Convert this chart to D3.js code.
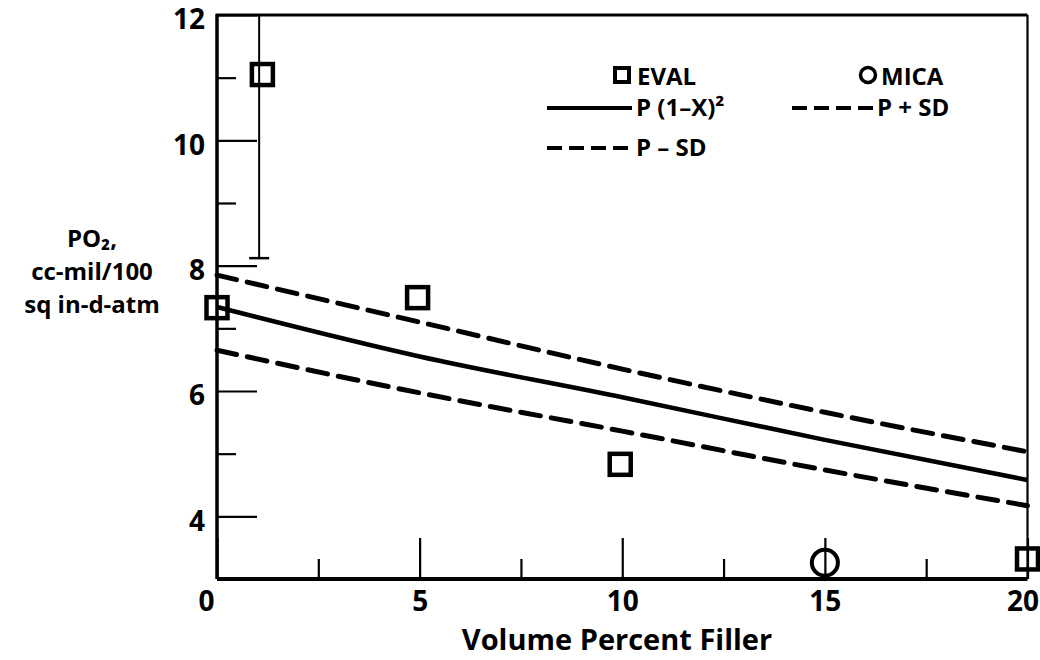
<!DOCTYPE html>
<html>
<head>
<meta charset="utf-8">
<script src="https://cdn.jsdelivr.net/npm/d3@7"></script>
<style>
  body { margin: 0; background: #fff; }
  text { font-family: "Open Sans", "Liberation Sans", sans-serif; font-weight: 700; fill: #000; }
</style>
</head>
<body>
<div id="chart"></div>
<script>
// ---- data ----
var fillerPct  = [0, 5, 10, 15, 20];             // x positions of the curves
var pFit       = [7.34, 6.55, 5.9, 5.22, 4.58];  // P (1-X)^2
var pPlusSD    = [7.85, 7.1, 6.35, 5.66, 5.03];  // P + SD
var pMinusSD   = [6.65, 5.97, 5.36, 4.74, 4.17]; // P - SD

var evalX = [0, 1.12, 4.95, 9.95, 20];
var evalY = [7.33, 11.05, 7.49, 4.83, 3.32];
var micaX = [15];
var micaY = [3.26];

// error bar on the EVAL point near 1 %
var errX = [1.04], errLo = [8.12], errHi = [12];

var xMajor = [0, 5, 10, 15, 20];
var xMinor = [2.5, 7.5, 12.5, 17.5];
var yMajor = [4, 6, 8, 10, 12];
var yMinor = [5, 7, 9, 11];

var W = 1040, H = 660;
var margin = {top: 15, right: 12.5, bottom: 81, left: 217};

var svg = d3.select("#chart").append("svg")
    .attr("width", W)
    .attr("height", H);

var x = d3.scaleLinear().domain([0, 20]).range([margin.left, W - margin.right]);
var y = d3.scaleLinear().domain([3, 12]).range([H - margin.bottom, margin.top]);

// ---- axes (ticks point inward) ----
var xAxis = svg.append("g")
    .attr("transform", "translate(0," + y(3) + ")")
    .call(d3.axisBottom(x).tickValues(xMajor).tickSize(-41).tickPadding(12).tickFormat(d3.format("d")));
var xAxisMinor = svg.append("g")
    .attr("transform", "translate(0," + y(3) + ")")
    .call(d3.axisBottom(x).tickValues(xMinor).tickSize(-20).tickFormat(""));

var yAxis = svg.append("g")
    .attr("transform", "translate(" + x(0) + ",0)")
    .call(d3.axisLeft(y).tickValues(yMajor).tickSize(-40).tickPadding(12).tickFormat(d3.format("d")));
var yAxisMinor = svg.append("g")
    .attr("transform", "translate(" + x(0) + ",0)")
    .call(d3.axisLeft(y).tickValues(yMinor).tickSize(-19).tickFormat(""));

svg.selectAll(".domain").remove();
svg.selectAll(".tick line").attr("stroke", "#000").attr("stroke-width", 2.2);
svg.selectAll(".tick text").style("font-size", "28px").attr("font-family", null).attr("font-size", null);

// labels sit a little below their ticks in the original
yAxis.selectAll(".tick text").attr("y", 5);
// zero label sits a bit left of the corner
xAxis.selectAll(".tick text").filter(function(d) { return d === 0; }).attr("dx", -11);
xAxis.selectAll(".tick text").filter(function(d) { return d === 20; }).attr("dx", -5);

// frame
svg.append("line").attr("x1", x(0)).attr("x2", x(0)).attr("y1", y(12)).attr("y2", y(3))
    .attr("stroke", "#000").attr("stroke-width", 3.5);
svg.append("line").attr("x1", x(0)).attr("x2", x(20)).attr("y1", y(3)).attr("y2", y(3))
    .attr("stroke", "#000").attr("stroke-width", 4);
svg.append("line").attr("x1", x(0) - 1.5).attr("x2", x(20)).attr("y1", y(12)).attr("y2", y(12))
    .attr("stroke", "#000").attr("stroke-width", 3);
svg.append("line").attr("x1", x(20)).attr("x2", x(20)).attr("y1", y(12)).attr("y2", y(3))
    .attr("stroke", "#000").attr("stroke-width", 2.2);

// ---- curves ----
var curveData = function(vals) {
    return fillerPct.map(function(d, i) { return [d, vals[i]]; });
};
var line = d3.line()
    .x(function(d) { return x(d[0]); })
    .y(function(d) { return y(d[1]); })
    .curve(d3.curveMonotoneX);

svg.append("path").datum(curveData(pFit))
    .attr("d", line).attr("fill", "none").attr("stroke", "#000").attr("stroke-width", 4.5);
svg.append("path").datum(curveData(pPlusSD))
    .attr("d", line).attr("fill", "none").attr("stroke", "#000").attr("stroke-width", 5)
    .attr("stroke-dasharray", "20,11").attr("stroke-linecap", "round");
svg.append("path").datum(curveData(pMinusSD))
    .attr("d", line).attr("fill", "none").attr("stroke", "#000").attr("stroke-width", 5)
    .attr("stroke-dasharray", "20,11").attr("stroke-linecap", "round");

// ---- error bar ----
var eb = svg.selectAll(".errbar").data(errX).enter().append("g").attr("class", "errbar");
eb.append("line")
    .attr("x1", function(d) { return x(d); }).attr("x2", function(d) { return x(d); })
    .attr("y1", function(d, i) { return y(errLo[i]); }).attr("y2", function(d, i) { return y(errHi[i]); })
    .attr("stroke", "#000").attr("stroke-width", 2);
eb.append("line")
    .attr("x1", function(d) { return x(d) - 10; }).attr("x2", function(d) { return x(d) + 10; })
    .attr("y1", function(d, i) { return y(errLo[i]); }).attr("y2", function(d, i) { return y(errLo[i]); })
    .attr("stroke", "#000").attr("stroke-width", 2.5);

// ---- points ----
var sq = 21;
svg.selectAll(".eval").data(evalX).enter().append("rect")
    .attr("class", "eval")
    .attr("x", function(d) { return x(d) - sq / 2; })
    .attr("y", function(d, i) { return y(evalY[i]) - sq / 2; })
    .attr("width", sq).attr("height", sq)
    .attr("fill", "none").attr("stroke", "#000").attr("stroke-width", 4.5);

svg.selectAll(".mica").data(micaX).enter().append("circle")
    .attr("class", "mica")
    .attr("cx", function(d) { return x(d); })
    .attr("cy", function(d, i) { return y(micaY[i]); })
    .attr("r", 13)
    .attr("fill", "none").attr("stroke", "#000").attr("stroke-width", 4);

// ---- legend ----
var leg = svg.append("g").attr("class", "legend").style("font-size", "24px");
leg.append("rect").attr("x", 615).attr("y", 68).attr("width", 14).attr("height", 14)
    .attr("fill", "none").attr("stroke", "#000").attr("stroke-width", 4);
leg.append("text").attr("x", 637).attr("y", 85).text("EVAL");
leg.append("circle").attr("cx", 868).attr("cy", 75).attr("r", 7.5)
    .attr("fill", "none").attr("stroke", "#000").attr("stroke-width", 3.5);
leg.append("text").attr("x", 881).attr("y", 85).text("MICA");

leg.append("line").attr("x1", 547).attr("x2", 632).attr("y1", 108).attr("y2", 108)
    .attr("stroke", "#000").attr("stroke-width", 4);
leg.append("text").attr("x", 636).attr("y", 116).text("P (1\u2013X)\u00b2");

leg.append("line").attr("x1", 792).attr("x2", 873).attr("y1", 108).attr("y2", 108)
    .attr("stroke", "#000").attr("stroke-width", 4).attr("stroke-dasharray", "15,7");
leg.append("text").attr("x", 877).attr("y", 116).text("P + SD");

leg.append("line").attr("x1", 547).attr("x2", 632).attr("y1", 148).attr("y2", 148)
    .attr("stroke", "#000").attr("stroke-width", 4).attr("stroke-dasharray", "15,7");
leg.append("text").attr("x", 636).attr("y", 156).text("P \u2013 SD");

// ---- axis titles ----
var yTitle = ["PO\u2082,", "cc-mil/100", "sq in-d-atm"];
svg.selectAll(".ytitle").data(yTitle).enter().append("text")
    .attr("class", "ytitle")
    .attr("x", 92)
    .attr("y", function(d, i) { return 247 + i * 33; })
    .attr("text-anchor", "middle")
    .style("font-size", "24px")
    .text(function(d) { return d; });

svg.append("text")
    .attr("x", 617).attr("y", 650)
    .attr("text-anchor", "middle")
    .style("font-size", "29px")
    .text("Volume Percent Filler");
</script>
</body>
</html>
